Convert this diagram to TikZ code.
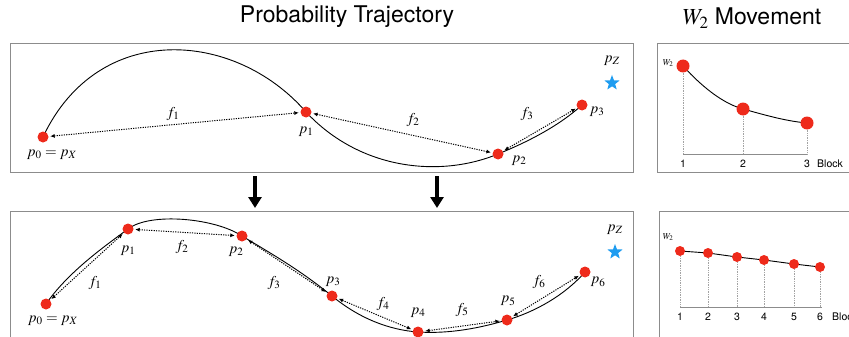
\documentclass[tikz,border=0pt]{standalone}
\usepackage{mathptmx}
\usepackage{fontspec}
\setmainfont{TeX Gyre Heros}
\usetikzlibrary{shapes.geometric, arrows.meta}
\definecolor{dotred}{HTML}{EE2A1B}
\definecolor{starblue}{HTML}{1E9CF0}
\definecolor{framegray}{HTML}{8C8C8C}
\pgfdeclarelayer{back}
\pgfsetlayers{back,main}

\begin{document}
\begin{tikzpicture}[x=1pt, y=-1pt,
  dot/.style={circle, fill=dotred, inner sep=0pt, minimum size=11pt},
  wdot/.style={circle, fill=dotred, inner sep=0pt, minimum size=13pt},
  sdot/.style={circle, fill=dotred, inner sep=0pt, minimum size=10pt},
  goal/.style={star, star points=5, star point ratio=2.4, fill=starblue, inner sep=0pt, minimum size=16pt},
  lab/.style={inner sep=1pt, font=\fontsize{15}{17}\selectfont},
  title/.style={inner sep=0pt, font=\fontsize{23}{26}\selectfont},
  ticklab/.style={inner sep=1pt, font=\fontsize{10.5}{12}\selectfont},
  wlab/.style={inner sep=0pt, font=\fontsize{9}{10}\selectfont},
  panel/.style={draw=framegray, line width=0.9pt},
  trail/.style={line width=0.9pt},
  arrow/.style={{Latex[length=4.5pt,width=4pt]}-{Latex[length=4.5pt,width=4pt]}, dash pattern=on 1.2pt off 1.2pt, line width=1pt, shorten <=1.5pt, shorten >=1.5pt},
  down/.style={-{Triangle[length=11pt,width=13pt]}, line width=3.5pt},
  axis/.style={draw=framegray, line width=0.8pt},
  guide/.style={draw=framegray!80, densely dotted, line width=0.7pt}
]
\useasboundingbox (0,0) rectangle (849,337);
\clip (0,0) rectangle (849,337);

\node[title] (ttraj) at (347,17) {Probability Trajectory};
\node[title] (tmove) at (752,18) {$W_2$ Movement};

\draw[panel] (10,43) rectangle (633,172);
\draw[panel] (10,211) rectangle (633,345);
\draw[panel] (657,43) rectangle (855,172);
\draw[panel] (659,211) rectangle (855,345);

\node[dot] (a0) at (43,137) {};
\node[dot] (a1) at (306,112) {};
\node[dot] (a2) at (498,154) {};
\node[dot] (a3) at (582,105) {};
\node[goal] (az) at (612,83) {};

\node[lab] (la0) at (52,155) {$p_0 = p_X$};
\node[lab] (la1) at (306,132) {$p_1$};
\node[lab] (la2) at (519,161) {$p_2$};
\node[lab] (la3) at (597,112) {$p_3$};
\node[lab] (laz) at (612,61) {$p_Z$};
\node[lab] (fa1) at (173,114) {$f_1$};
\node[lab] (fa2) at (413,120) {$f_2$};
\node[lab] (fa3) at (527,114) {$f_3$};

\begin{pgfonlayer}{back}
\draw[trail] (a0.center) .. controls (98,20) and (235,30) .. (a1.center)
  .. controls (360,170) and (440,178) .. (a2.center)
  .. controls (530,141) and (560,125) .. (a3.center);
\end{pgfonlayer}

\draw[arrow] (a0) -- (a1);
\draw[arrow] (a1) -- (a2);
\draw[arrow] (a2) -- (a3);

\coordinate (s1) at (255,176);
\coordinate (e1) at (255,208);
\coordinate (s2) at (437,176);
\coordinate (e2) at (437,208);
\draw[down] (s1) -- (e1);
\draw[down] (s2) -- (e2);

\node[dot] (b0) at (46,304) {};
\node[dot] (b1) at (128,229) {};
\node[dot] (b2) at (242,236) {};
\node[dot] (b3) at (332,296) {};
\node[dot] (b4) at (418,332) {};
\node[dot] (b5) at (507,320) {};
\node[dot] (b6) at (585,272) {};
\node[goal] (bz) at (615,252) {};

\node[lab] (lb0) at (53,321) {$p_0 = p_X$};
\node[lab] (lb1) at (128,251) {$p_1$};
\node[lab] (lb2) at (236,252) {$p_2$};
\node[lab] (lb3) at (333,282) {$p_3$};
\node[lab] (lb4) at (418,313) {$p_4$};
\node[lab] (lb5) at (508,301) {$p_5$};
\node[lab] (lb6) at (598,282) {$p_6$};
\node[lab] (lbz) at (615,230) {$p_Z$};
\node[lab] (fb1) at (95,283) {$f_1$};
\node[lab] (fb2) at (182,247) {$f_2$};
\node[lab] (fb3) at (274,283) {$f_3$};
\node[lab] (fb4) at (383,304) {$f_4$};
\node[lab] (fb5) at (462,310) {$f_5$};
\node[lab] (fb6) at (539,282) {$f_6$};

\begin{pgfonlayer}{back}
\draw[trail] (b0.center) .. controls (68,272) and (105,246) .. (b1.center)
  .. controls (150,212) and (215,218) .. (b2.center)
  .. controls (272,254) and (300,270) .. (b3.center)
  .. controls (360,319) and (390,330) .. (b4.center)
  .. controls (450,334) and (480,328) .. (b5.center)
  .. controls (535,312) and (565,295) .. (b6.center);
\end{pgfonlayer}

\draw[arrow] (b0) -- (b1);
\draw[arrow] (b1) -- (b2);
\draw[arrow] (b2) -- (b3);
\draw[arrow] (b3) -- (b4);
\draw[arrow] (b4) -- (b5);
\draw[arrow] (b5) -- (b6);

\node[wdot] (q1) at (683,66) {};
\node[wdot] (q2) at (743,109) {};
\node[wdot] (q3) at (807,123) {};
\coordinate (o1) at (683,154);
\coordinate (o2) at (743,154);
\coordinate (o3) at (807,154);
\node[wlab] (wq) at (668,63) {$W_2$};
\begin{pgfonlayer}{back}
\draw[trail] (q1.center) .. controls (705,90) and (725,104) .. (q2.center)
  .. controls (765,115) and (785,121) .. (q3.center);
\draw[guide] (q1) -- (o1);
\draw[guide] (q2) -- (o2);
\draw[guide] (q3) -- (o3);
\end{pgfonlayer}
\draw[axis] (o1) -- (o3);
\node[ticklab] (tq1) at (683,164) {1};
\node[ticklab] (tq2) at (743,164) {2};
\node[ticklab] (tq3) at (807,164) {3};
\node[ticklab, anchor=west] (tqb) at (816,164) {Block};

\node[sdot] (r1) at (680,251) {};
\node[sdot] (r2) at (708,253) {};
\node[sdot] (r3) at (737,257) {};
\node[sdot] (r4) at (764,260) {};
\node[sdot] (r5) at (794,264) {};
\node[sdot] (r6) at (820,267) {};
\coordinate (u1) at (680,307);
\coordinate (u2) at (708,307);
\coordinate (u3) at (737,307);
\coordinate (u4) at (764,307);
\coordinate (u5) at (794,307);
\coordinate (u6) at (820,307);
\node[wlab] (wr) at (668,237) {$W_2$};
\begin{pgfonlayer}{back}
\draw[trail] (r1.center) -- (r2.center) -- (r3.center) -- (r4.center) -- (r5.center) -- (r6.center);
\foreach \i in {1,...,6} {
  \draw[guide] (r\i) -- (u\i);
}
\end{pgfonlayer}
\draw[axis] (u1) -- ([xshift=2pt]u6);
\node[ticklab] (tr1) at (680,317) {1};
\node[ticklab] (tr2) at (708,317) {2};
\node[ticklab] (tr3) at (737,317) {3};
\node[ticklab] (tr4) at (764,317) {4};
\node[ticklab] (tr5) at (794,317) {5};
\node[ticklab] (tr6) at (820,317) {6};
\node[ticklab, anchor=west] (trb) at (831,317) {Block};

\end{tikzpicture}
\end{document}
